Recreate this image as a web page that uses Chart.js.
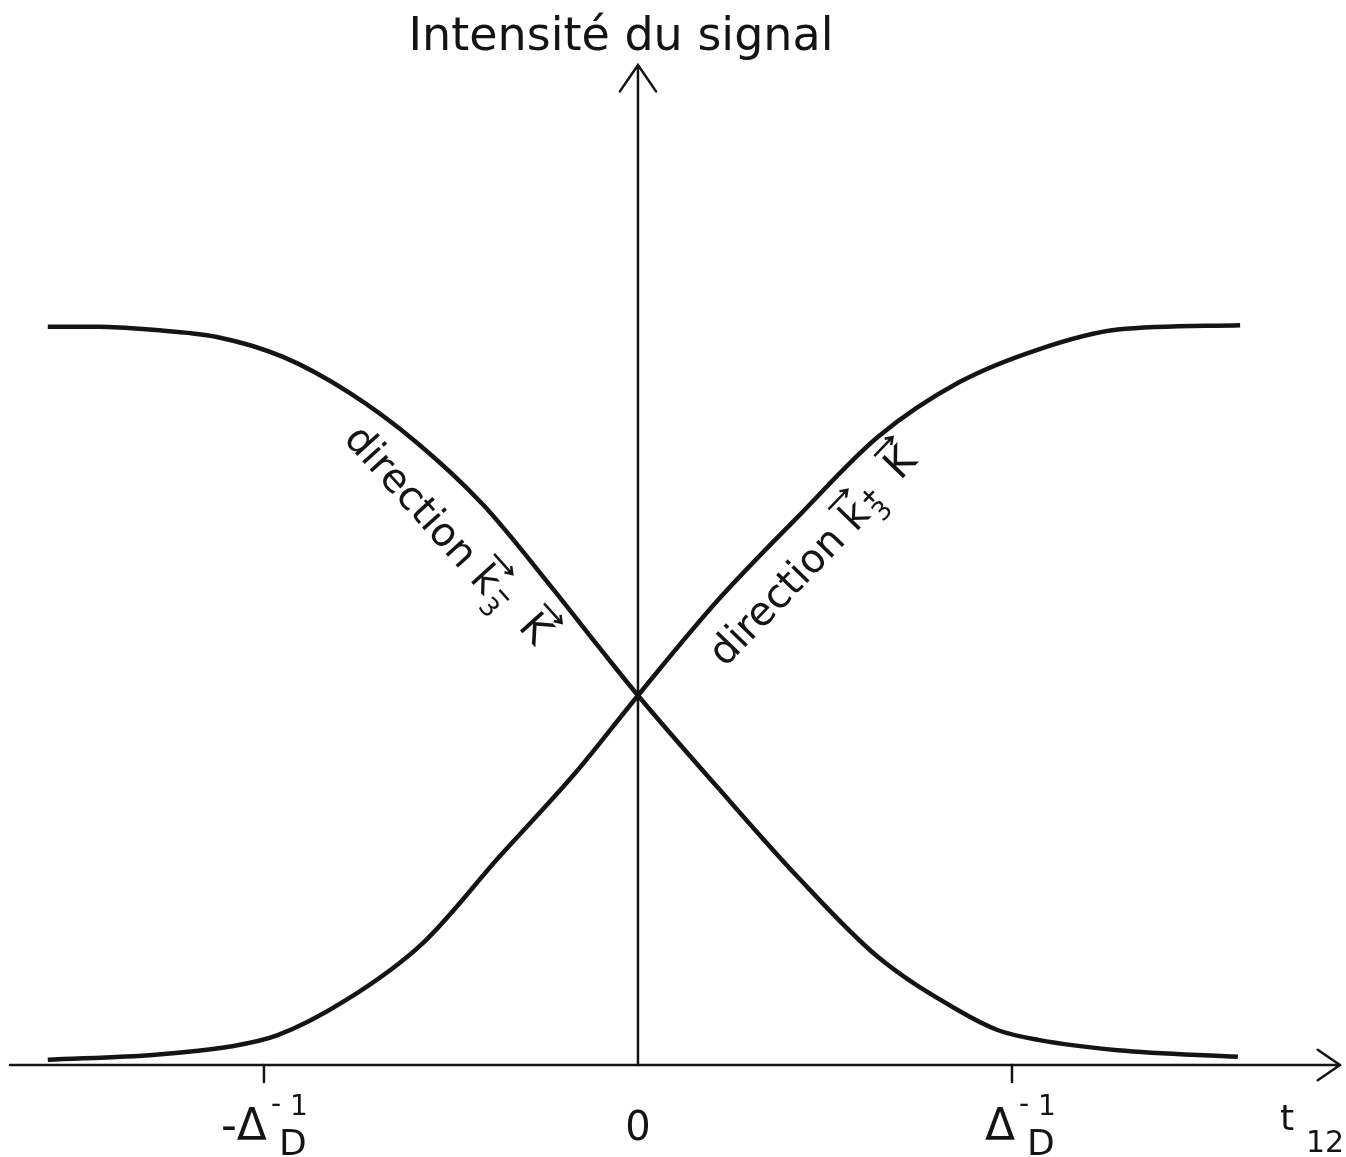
<!DOCTYPE html>
<html>
<head>
<meta charset="utf-8">
<title>Intensité du signal</title>
<script src="https://cdn.jsdelivr.net/npm/chart.js@4"></script>
<style>
  body { margin: 0; background: #fff; }
  canvas { display: block; }
</style>
</head>
<body>
<canvas id="myChart" width="1346" height="1157"></canvas>
<script>
// t12 in units of 1/Delta_D, intensity normalised to the plateau
const fallT = [-1.578, -1.44, -1.305, -1.126, -0.949, -0.770, -0.591, -0.414, -0.235, -0.102, 0, 0.214, 0.428, 0.642, 0.856, 0.963, 1.07, 1.283, 1.604];
const fallI = [0.999, 0.999, 0.995, 0.985, 0.958, 0.909, 0.842, 0.758, 0.649, 0.564, 0.5, 0.375, 0.254, 0.146, 0.074, 0.047, 0.034, 0.020, 0.011];

const riseT = [-1.578, -1.29, -1.09, -0.965, -0.78, -0.575, -0.372, -0.166, 0, 0.214, 0.428, 0.642, 0.856, 1.07, 1.283, 1.61];
const riseI = [0.007, 0.014, 0.025, 0.040, 0.088, 0.165, 0.281, 0.396, 0.5, 0.629, 0.742, 0.85, 0.923, 0.968, 0.995, 1.001];

const tickPos = [-1, 0, 1];
const tickMain = ['-Δ', '0', 'Δ'];
const tickSup = ['-1', '', '-1'];
const tickSub = ['D', '', 'D'];

const yTitle = 'Intensité du signal';
const xTitle = 't';
const xTitleSub = '12';

// where the two curve captions start (data coords) and which sign they carry
const labelStart = [{t: -0.789, i: 0.846, sign: '−', ang: 48}, {t: 0.233, i: 0.537, sign: '+', ang: -46}];

const ink = '#141414';
const font = '"DejaVu Sans", sans-serif';

function toPts(ts, is) {
  return ts.map((t, k) => ({x: t, y: is[k]}));
}

function arrow(ctx, x0, y0, x1, y1, len) {
  const a = Math.atan2(y1 - y0, x1 - x0);
  ctx.beginPath();
  ctx.moveTo(x0, y0);
  ctx.lineTo(x1, y1);
  ctx.moveTo(x1 - len * Math.cos(a - 0.6), y1 - len * Math.sin(a - 0.6));
  ctx.lineTo(x1, y1);
  ctx.lineTo(x1 - len * Math.cos(a + 0.6), y1 - len * Math.sin(a + 0.6));
  ctx.stroke();
}

function curveLabel(ctx, x, y, angDeg, sign) {
  ctx.save();
  ctx.translate(x, y);
  ctx.rotate(angDeg * Math.PI / 180);
  ctx.fillStyle = ink;
  ctx.strokeStyle = ink;
  ctx.lineWidth = 2.5;
  ctx.textAlign = 'left';
  ctx.textBaseline = 'alphabetic';
  ctx.font = '40px ' + font;
  ctx.fillText('direction', 0, 0);
  let x0 = ctx.measureText('direction ').width;
  ctx.fillText('k', x0, 0);
  const kw = ctx.measureText('k').width;
  arrow(ctx, x0 - 2, -36, x0 + kw + 2, -36, 8);
  let x3 = x0 + kw + 3;
  ctx.font = '26px ' + font;
  ctx.fillText('3', x3, 12);
  ctx.font = 'bold 22px ' + font;
  ctx.fillText(sign, x3, -9);
  let xK = x3 + 42;
  ctx.font = '40px ' + font;
  ctx.fillText('K', xK, -4);
  const Kw = ctx.measureText('K').width;
  arrow(ctx, xK, -40, xK + Kw, -40, 8);
  ctx.restore();
}

const axesPlugin = {
  id: 'axesPlugin',
  beforeDatasetsDraw(chart) {
    const ctx = chart.ctx;
    const xs = chart.scales.x, ys = chart.scales.y;
    const ca = chart.chartArea;
    const x0 = xs.getPixelForValue(0);
    const y0 = ys.getPixelForValue(0);
    ctx.save();
    ctx.strokeStyle = ink;
    ctx.fillStyle = ink;
    ctx.lineWidth = 2.5;
    ctx.lineCap = 'round';
    // horizontal and vertical axis with arrow heads
    arrow(ctx, ca.left, y0, ca.right, y0, 27);
    arrow(ctx, x0, y0, x0, ca.top, 32);

    // ticks + labels
    tickPos.forEach((t, k) => {
      const px = xs.getPixelForValue(t);
      if (t !== 0) {
        ctx.beginPath();
        ctx.moveTo(px, y0);
        ctx.lineTo(px, y0 + 17);
        ctx.stroke();
        ctx.textBaseline = 'alphabetic';
        ctx.textAlign = 'right';
        ctx.font = '44px ' + font;
        ctx.fillText(tickMain[k], px + 3, y0 + 75);
        ctx.textAlign = 'left';
        ctx.font = '28px ' + font;
        ctx.fillText(tickSup[k][0], px + 7, y0 + 48);
        ctx.fillText(tickSup[k].slice(1), px + 26, y0 + 50);
        ctx.font = '36px ' + font;
        ctx.fillText(tickSub[k], px + 15, y0 + 90);
      } else {
        ctx.textAlign = 'center';
        ctx.textBaseline = 'alphabetic';
        ctx.font = '40px ' + font;
        ctx.fillText(tickMain[k], px, y0 + 75);
      }
    });

    // axis names
    ctx.textAlign = 'center';
    ctx.textBaseline = 'alphabetic';
    ctx.font = '46px ' + font;
    ctx.fillText(yTitle, x0 - 17, ca.top - 15);
    ctx.textAlign = 'left';
    ctx.font = '36px ' + font;
    ctx.fillText(xTitle, 1280, y0 + 65);
    ctx.font = '30px ' + font;
    ctx.fillText(xTitleSub, 1306, y0 + 87);
    ctx.restore();
  },
  afterDatasetsDraw(chart) {
    const ctx = chart.ctx;
    const xs = chart.scales.x, ys = chart.scales.y;
    labelStart.forEach(l => {
      curveLabel(ctx, xs.getPixelForValue(l.t), ys.getPixelForValue(l.i), l.ang, l.sign);
    });
  }
};

const ctx = document.getElementById('myChart');
new Chart(ctx, {
  type: 'scatter',
  data: {
    datasets: [
      {
        data: toPts(fallT, fallI),
        showLine: true,
        borderColor: ink,
        borderWidth: 4.5,
        pointRadius: 0,
        cubicInterpolationMode: 'monotone',
        clip: false
      },
      {
        data: toPts(riseT, riseI),
        showLine: true,
        borderColor: ink,
        borderWidth: 4.5,
        pointRadius: 0,
        cubicInterpolationMode: 'monotone',
        clip: false
      }
    ]
  },
  options: {
    responsive: false,
    animation: false,
    layout: { padding: { left: 10, right: 6, top: 65, bottom: 92 } },
    plugins: { legend: { display: false }, tooltip: { enabled: false } },
    scales: {
      x: { type: 'linear', min: -1.679, max: 1.877, display: false },
      y: { type: 'linear', min: 0, max: 1.353, display: false }
    }
  },
  plugins: [axesPlugin]
});
</script>
</body>
</html>
